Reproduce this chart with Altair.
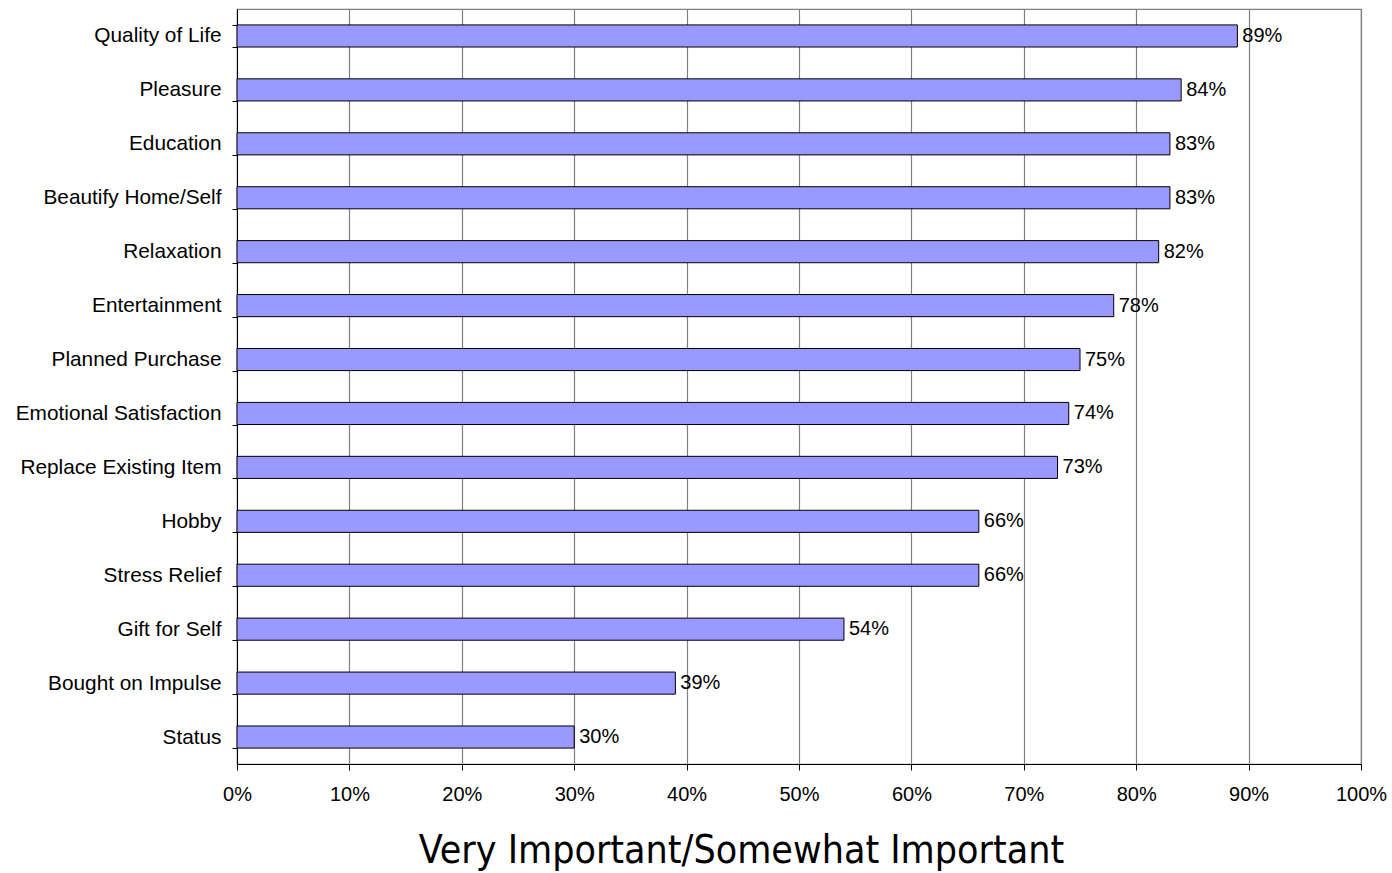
import altair as alt
import pandas as pd

categories = [
    "Quality of Life", "Pleasure", "Education", "Beautify Home/Self",
    "Relaxation", "Entertainment", "Planned Purchase", "Emotional Satisfaction",
    "Replace Existing Item", "Hobby", "Stress Relief", "Gift for Self",
    "Bought on Impulse", "Status",
]
values = [0.89, 0.84, 0.83, 0.83, 0.82, 0.78, 0.75, 0.74, 0.73, 0.66, 0.66, 0.54, 0.39, 0.30]
x_ticks = [0, 0.1, 0.2, 0.3, 0.4, 0.5, 0.6, 0.7, 0.8, 0.9, 1.0]

df = pd.DataFrame({"reason": categories, "share": values})

FONT = "Liberation Sans"
NARROW = "'Liberation Sans Narrow', 'DejaVu Sans Condensed', 'Roboto Condensed', 'Open Sans Condensed', Roboto"

y_enc = alt.Y(
    "reason:N",
    sort=categories,
    scale=alt.Scale(paddingInner=0.59, paddingOuter=0.295),
    axis=alt.Axis(
        title=None,
        tickBand="extent",
        domainColor="black",
        tickColor="black",
        tickSize=5,
        labelPadding=11,
        labelLimit=400,
        labelFont=FONT,
        labelFontSize=20.8,
        labelColor="black",
        grid=False,
    ),
)

x_enc = alt.X(
    "share:Q",
    scale=alt.Scale(domain=[0, 1], nice=False),
    axis=alt.Axis(
        values=x_ticks,
        format=".0%",
        title="Very Important/Somewhat Important",
        titleFont=NARROW,
        titleFontSize=39,
        titleFontWeight="normal",
        titleColor="black",
        titleX=504,
        titleY=98,
        titleBaseline="alphabetic",
        titleAnchor="middle",
        domainColor="black",
        tickColor="black",
        tickSize=6,
        labelPadding=14,
        labelFlush=False,
        labelOverlap=False,
        labelFont=FONT,
        labelFontSize=20,
        labelColor="black",
        gridColor="#808080",
        gridWidth=1.2,
        gridOpacity=1,
    ),
)

bars = alt.Chart(df).mark_bar(
    color="#9999FF", stroke="black", strokeWidth=1
).encode(x=x_enc, y=y_enc)

labels = alt.Chart(df).mark_text(
    align="left", baseline="middle", dx=5, font=FONT, fontSize=20, color="black"
).encode(
    x=alt.X("share:Q"),
    y=alt.Y("reason:N", sort=categories),
    text=alt.Text("share:Q", format=".0%"),
)

chart = (
    alt.layer(bars, labels)
    .properties(
        width=1124,
        height=755,
        autosize=alt.AutoSizeParams(type="none"),
        padding={"left": 237, "top": 9, "right": 31, "bottom": 109},
        background="white",
    )
    .configure_view(stroke="#808080", strokeWidth=1.2)
)

chart.save("out.html", embed_options={"renderer": "svg", "actions": False})
